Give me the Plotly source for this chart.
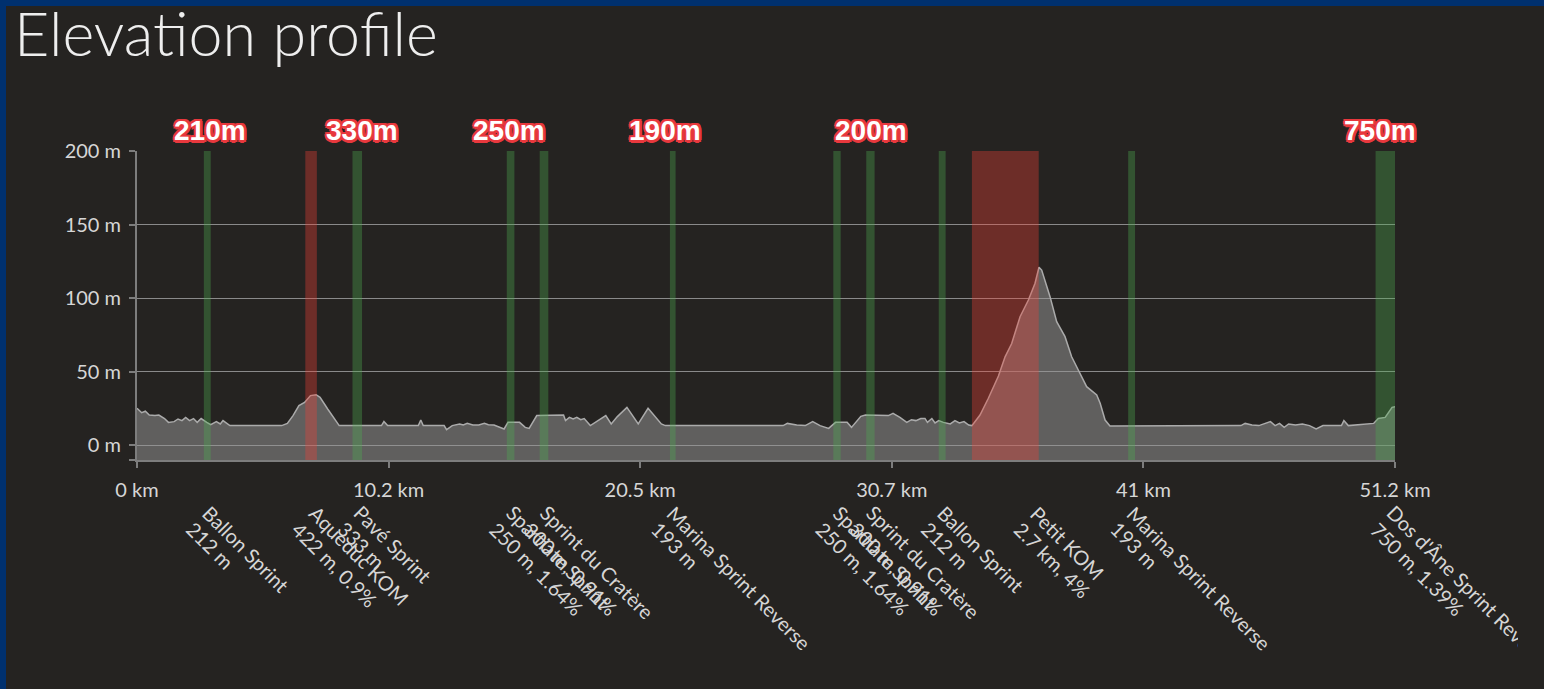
import plotly.graph_objects as go

# ---------------- data ----------------
distance_km = [
    0.0, 0.03, 0.19, 0.34, 0.5, 0.73, 0.89, 1.12, 1.28, 1.51, 1.67, 1.83, 1.98, 2.14, 2.30, 2.45, 2.61,
    2.84, 3.0, 3.23, 3.39, 3.5, 3.78,
    5.89, 6.12, 6.35, 6.59, 6.82, 7.06, 7.29, 7.45, 7.76, 7.99, 8.23,
    9.95, 10.05, 10.2, 11.45, 11.55, 11.65, 12.5, 12.6, 12.83, 13.13, 13.28, 13.44, 13.67, 13.91,
    14.14, 14.3, 14.53, 14.77, 14.94, 15.1, 15.57, 15.8, 15.96, 16.27, 17.36, 17.44, 17.6, 17.75,
    17.9, 18.06, 18.2, 18.45, 18.77, 19.08, 19.3, 19.55, 19.94, 20.4, 20.8, 21.34, 21.5,
    26.3, 26.47, 26.85, 27.2, 27.5, 27.8, 28.15, 28.43, 28.9, 29.08, 29.46, 29.65, 30.58, 30.77,
    31.05, 31.33, 31.52, 31.7, 31.9, 32.07, 32.17, 32.35, 32.48, 32.63, 32.82, 33.1, 33.29, 33.47,
    33.66, 33.85, 33.98,
    34.31, 34.65, 35.06, 35.33, 35.6, 35.94, 36.28, 36.55, 36.71, 36.82, 37.16, 37.43, 37.77,
    38.04, 38.31, 38.65, 39.06, 39.2, 39.4, 39.6,
    44.93, 45.1, 45.38, 45.66, 46.13, 46.32, 46.5, 46.69, 46.87, 47.15, 47.43, 47.72, 47.99, 48.27,
    49.02, 49.12, 49.3, 49.77, 50.33, 50.52, 50.8, 51.08, 51.2,
]
elevation_m = [
    25, 24.5, 22, 23, 20.4, 20, 20.4, 18, 15.4, 15.9, 17.7, 16.6, 18.8, 16.6, 18, 15.4, 18,
    15.4, 13.8, 15.9, 14.3, 16.6, 13.2,
    13.2, 14.7, 20, 26.8, 29, 33.6, 34.2, 32.4, 24.5, 18.8, 13.2,
    13.2, 16, 13.2, 13.2, 17, 13.2, 13.2, 10.4, 13.2, 14.3, 13.6, 14.7, 13.6, 13.6,
    14.7, 13.8, 13.6, 12, 10.9, 15.4, 15.4, 12, 11.3, 20, 20.4, 16.6, 18.8, 17.7,
    18.8, 17.2, 18, 13.2, 16.6, 20, 14.3, 19.3, 25.6, 14.3, 25, 14.3, 13.2,
    13.2, 14.7, 13.6, 13.2, 15.9, 13.2, 11.3, 15.4, 15.4, 12, 19.5, 20.4, 20, 21.5,
    18.8, 15.4, 17.2, 16.6, 18, 18.1, 15.4, 18, 15, 16.6, 15.4, 14.3, 16.6, 15,
    15.9, 13.6, 13.2,
    20.4, 31.8, 46.9, 60, 69, 87.3, 98.6, 110, 120.9, 119, 100.9, 83.9, 73.7,
    60, 51, 39.7, 34, 28.4, 17, 12.9,
    13.2, 14.7, 13.6, 13.2, 15.9, 13.2, 14.7, 12, 14.3, 13.6, 14.3, 13.2, 10.9, 13.2,
    13.2, 16.6, 13.2, 13.8, 14.7, 18, 18.8, 25.6, 26,
]

segment_names = ["Ballon Sprint", "Aqueduc KOM", "Pavé Sprint", "Spartiate Sprint",
                 "Sprint du Cratère", "Marina Sprint Reverse", "Spartiate Sprint",
                 "Sprint du Cratère", "Ballon Sprint", "Petit KOM", "Marina Sprint Reverse",
                 "Dos d'Âne Sprint Reverse"]
segment_info = ["212 m", "422 m, 0.9%", "333 m", "250 m, 1.64%", "300 m, 0.91%", "193 m",
                "250 m, 1.64%", "300 m, 0.91%", "212 m", "2.7 km, 4%", "193 m", "750 m, 1.39%"]
segment_type = ["sprint", "kom", "sprint", "sprint", "sprint", "sprint", "sprint", "sprint",
                "sprint", "kom", "sprint", "sprint"]
segment_start_km = [2.72, 6.85, 8.77, 15.05, 16.39, 21.69, 28.34, 29.68, 32.63, 33.98, 40.34, 50.41]
segment_end_km = [3.00, 7.32, 9.16, 15.36, 16.74, 21.92, 28.64, 30.02, 32.91, 36.70, 40.62, 51.2]

top_label_text = ["210m", "330m", "250m", "190m", "200m", "750m"]
top_label_km = [2.99, 9.16, 15.16, 21.47, 29.89, 50.59]

x_tick_vals = [0, 10.24, 20.48, 30.72, 40.96, 51.2]
x_tick_text = ["0 km", "10.2 km", "20.5 km", "30.7 km", "41 km", "51.2 km"]
y_tick_vals = [-10.2, 0, 50, 100, 150, 200]
y_tick_text = ["", "0 m", "50 m", "100 m", "150 m", "200 m"]

# ---------------- style ----------------
BG = "#252321"
BORDER = "#00306e"
AXIS = "#7d7d7d"
GRID = "#8a8a8a"
TEXT = "#d6d6d6"
FONT = "Lato"
Y_MIN = -10.2
X_MAX = 51.2
COLORS = {"sprint": "rgba(76,175,80,0.35)", "kom": "rgba(244,67,54,0.35)"}

fig = go.Figure()
fig.add_trace(go.Scatter(x=[0, X_MAX], y=[Y_MIN, Y_MIN], mode="lines",
                         line=dict(width=0, color="rgba(0,0,0,0)"), hoverinfo="skip",
                         showlegend=False))
fig.add_trace(go.Scatter(x=distance_km, y=elevation_m, mode="lines", fill="tonexty",
                         fillcolor="rgba(150,150,150,0.53)",
                         line=dict(color="#ababab", width=1.5), showlegend=False))

for s, e, t in zip(segment_start_km, segment_end_km, segment_type):
    fig.add_shape(type="rect", xref="x", yref="paper", x0=s, x1=e, y0=0, y1=1,
                  fillcolor=COLORS[t], line=dict(width=0), layer="above")

annotations = []
LINE_STEP = 16.3
for name, info, e in zip(segment_names, segment_info, segment_end_km):
    for i, txt in enumerate([name, info]):
        annotations.append(dict(
            x=e, xref="x", y=0, yref="paper", text=txt, showarrow=False,
            textangle=45, xanchor="left", yanchor="top",
            xshift=-15.5 - i * LINE_STEP, yshift=-38 - i * LINE_STEP,
            font=dict(family=FONT, size=20, color=TEXT)))

RED = "#e8383d"
shadow = ", ".join(f"{dx}px {dy}px 0.5px {RED}" for dx, dy in
                   [(-2, -2), (2, -2), (-2, 2), (2, 2), (0, -2.5), (0, 2.5), (-2.5, 0), (2.5, 0)])
for txt, km in zip(top_label_text, top_label_km):
    annotations.append(dict(
        x=km, xref="x", y=1, yref="paper", yshift=21, text=txt, showarrow=False,
        xanchor="center", yanchor="middle",
        font=dict(family="Liberation Sans", size=28, color="white", weight="bold",
                  shadow=shadow)))

fig.update_layout(
    width=1512, height=683,
    margin=dict(l=131, r=123, t=145, b=229),
    paper_bgcolor=BG, plot_bgcolor=BG,
    showlegend=False,
    title=dict(text="Elevation profile", x=8 / 1512, xref="container", xanchor="left",
               y=1 - 7 / 683, yref="container", yanchor="top",
               font=dict(family=FONT, size=61, color="#eeeeee", weight=300)),
    annotations=annotations,
    xaxis=dict(range=[0, X_MAX], tickvals=x_tick_vals, ticktext=x_tick_text,
               showgrid=False, zeroline=False, showline=True, linecolor=AXIS, linewidth=2,
               ticks="outside", ticklen=6, tickwidth=2, tickcolor=AXIS,
               ticklabelstandoff=5,
               tickfont=dict(family=FONT, size=20, color=TEXT)),
    yaxis=dict(range=[Y_MIN, 200], tickvals=y_tick_vals, ticktext=y_tick_text,
               showgrid=True, gridcolor=GRID, gridwidth=1, zeroline=False,
               showline=True, linecolor=AXIS, linewidth=2,
               ticks="outside", ticklen=6, tickwidth=2, tickcolor=AXIS,
               ticklabelstandoff=4,
               tickfont=dict(family=FONT, size=20, color=TEXT)),
)

post = ("document.documentElement.style.background='" + BORDER + "';"
        "document.documentElement.style.overflow='hidden';"
        "document.body.style.margin='6px 0 0 6px';"
        "document.body.style.background='" + BG + "';"
        "document.body.style.minHeight='calc(100vh - 6px)';"
        "document.body.style.overflow='hidden';")

fig.write_html("out.html", config={"displayModeBar": False}, post_script=post)
